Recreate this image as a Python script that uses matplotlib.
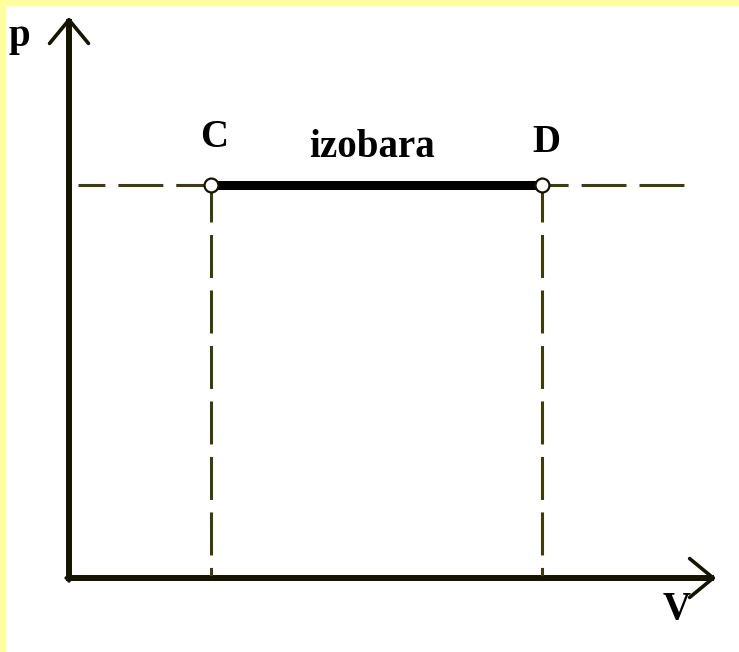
import matplotlib.pyplot as plt
from matplotlib.patches import Rectangle

# isobaric process C -> D (arbitrary units)
V_C = 3.0
V_D = 10.0
p_CD = 8.0
V_max = 13.68
p_max = 11.42
labels = ["C", "D"]

serif = ["Liberation Serif", "DejaVu Serif"]
ink = "#141400"
dash_col = "#3c3c10"

fig = plt.figure(figsize=(7.39, 6.52), dpi=100)
fig.patch.set_facecolor("white")
# pale yellow frame on top and left
fig.patches.append(Rectangle((0, 0), 5 / 739, 1, transform=fig.transFigure,
                             color="#ffffa0", zorder=0))
fig.patches.append(Rectangle((0, 1 - 5 / 652), 1, 5 / 652, transform=fig.transFigure,
                             color="#ffffa0", zorder=0))

ax = fig.add_axes([0, 0, 1, 1])
ax.set_xlim(-69 / 47.3, 670 / 47.3)
ax.set_ylim(-74 / 49.125, 578 / 49.125)
ax.axis("off")

# axes with open arrow heads
arrow = dict(arrowstyle="->,head_length=17,head_width=14", mutation_scale=1,
             color=ink, lw=2.6, shrinkA=0, shrinkB=0)
ax.annotate("", xy=(0, p_max), xytext=(0, -0.06), arrowprops=arrow)
ax.annotate("", xy=(V_max, 0), xytext=(-0.06, 0), arrowprops=arrow)
ax.plot([0, 0], [0, p_max - 0.05], color=ink, lw=4.3, solid_capstyle="butt")
ax.plot([-0.06, V_max - 0.05], [0, 0], color=ink, lw=4.3, solid_capstyle="butt")

# dashed guide lines
dlw = 2.2
ax.plot([0.19, 13.07], [p_CD, p_CD], color=dash_col, lw=dlw,
        ls=(5.9, (14.7, 4.25)), solid_capstyle="butt")
for v in (V_C, V_D):
    ax.plot([v, v], [p_CD, 0], color=dash_col, lw=dlw,
            ls=(1.96, (14.07, 4.09)))

# isobar
ax.plot([V_C, V_D], [p_CD, p_CD], color="black", lw=6.5, solid_capstyle="butt", zorder=3)
ax.plot([V_C, V_D], [p_CD, p_CD], "o", ms=10, mfc="white", mec=ink, mew=1.6, zorder=4)

fs = 28
ax.text(V_C + 0.06, p_CD + 0.78, labels[0], ha="center", va="baseline",
        fontsize=fs, fontweight="bold", family=serif)
ax.text(V_D + 0.1, p_CD + 0.68, labels[1], ha="center", va="baseline",
        fontsize=fs, fontweight="bold", family=serif)
ax.text((V_C + V_D) / 2 - 0.09, p_CD + 0.57, "izobara", ha="center", va="baseline",
        fontsize=fs, fontweight="bold", family=serif)
ax.text(-1.04, p_max - 0.4, "p", ha="center", va="center",
        fontsize=fs, fontweight="bold", family=serif)
ax.text(12.85, -0.65, "V", ha="center", va="center",
        fontsize=fs, fontweight="bold", family=serif)

fig.savefig("out.png", dpi=100)
